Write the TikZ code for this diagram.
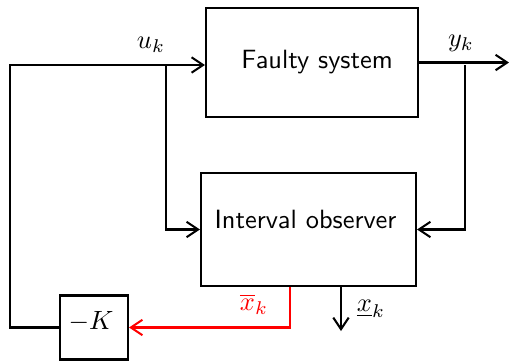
\documentclass[tikz,border=0pt]{standalone}
\usepackage{fontspec}
\usepackage{fix-cm}
\usetikzlibrary{arrows.meta,calc}
\begin{document}
\begin{tikzpicture}[x=0.39pt,y=-0.39pt,
  every node/.style={font=\fontsize{10.3}{12}\selectfont},
  blk/.style={draw,line width=0.8pt,rectangle,inner sep=0pt,font=\fontsize{10.3}{12}\selectfont\sffamily},
  conn/.style={line width=0.8pt,-{Straight Barb[length=4.5pt,width=6pt,line width=0.8pt]}},
  wire/.style={line width=0.8pt}]
\useasboundingbox (0,0) rectangle (509,360);
\node[blk,minimum width=212*0.39pt,minimum height=109*0.39pt] (sys) at (312,62.5) {\hspace{4pt}Faulty system};
\node[blk,minimum width=215*0.39pt,minimum height=113*0.39pt] (obs) at (308.5,229.5) {};
\node[font=\fontsize{10.3}{12}\selectfont\sffamily] (obstext) at (305.5,219) {Interval observer};
\node[blk,minimum width=68*0.39pt,minimum height=64*0.39pt] (K) at (94,327.5) {};
\node (Ktext) at (91,322) {$-K$};
\coordinate (c1) at (10,65);
\coordinate (b1) at (166,65);
\coordinate (yout) at (509,62.5);
\coordinate (b2) at (465,65);
\coordinate (r1) at (290,0);
\coordinate (d1) at (341,0);
\coordinate (d2) at (341,331);
\draw[conn] (K.west) -| (c1) -- (c1 -| sys.west);
\draw[conn] (b1) |- (obs.west);
\draw[conn] (sys.east) -- (yout);
\draw[conn] (b2) |- (obs.east);
\draw[conn,red] (obs.south -| r1) |- (K.east);
\draw[conn] (obs.south -| d1) -- (d2);
\node (uk) at (151,45) {$u_k$};
\node (yk) at (461,43) {$y_k$};
\node[red] (xo) at (254,304) {$\overline{x}_k$};
\node (xu) at (371,309) {$\underline{x}_k$};
\end{tikzpicture}
\end{document}
